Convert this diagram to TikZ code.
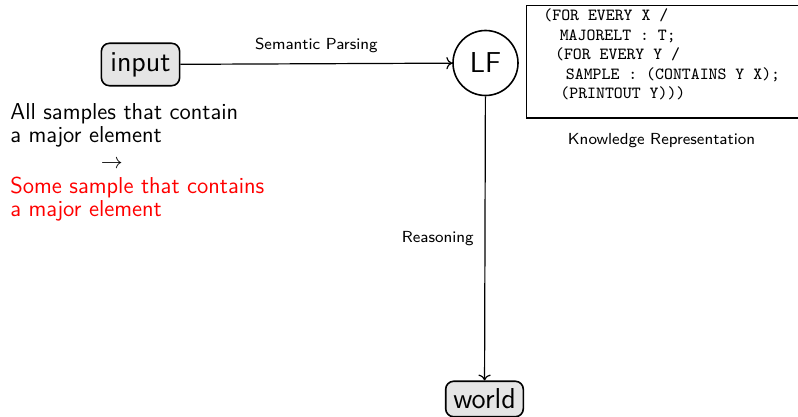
\documentclass[tikz,border=0pt]{standalone}
\usetikzlibrary{arrows.meta}
\begin{document}
\begin{tikzpicture}[x=0.5pt,y=-0.5pt,
  term/.style={draw, thick, rounded corners=4pt, fill=gray!20, inner sep=3.8pt,
    font=\sffamily\fontsize{14.4}{17}\selectfont},
  lfnode/.style={draw, thick, circle, minimum size=32.5pt, inner sep=0pt,
    font=\sffamily\fontsize{14.4}{17}\selectfont},
  flow/.style={semithick, ->},
  edgelabel/.style={font=\sffamily\fontsize{8}{9.5}\selectfont},
  codeline/.style={anchor=base west, inner sep=0pt, text height=6pt, text depth=1.8pt,
    font=\ttfamily\fontsize{8.5}{10}\selectfont},
  prose/.style={anchor=north west, inner sep=0pt, align=left,
    font={\sffamily\fontsize{11.5}{11.6}\selectfont\lineskiplimit=-100pt}},
]
\useasboundingbox (0,0) rectangle (798,417);

% main pipeline
\node[term, inner sep=4.5pt] (input) at (140.5,64.5) {input};
\node[lfnode] (LF) at (485.5,63) {LF};
\node[term] (world) at (484.5,399) {world};

\draw[flow] (input) -- node[edgelabel, above=2pt] {Semantic Parsing} (LF);
\draw[flow] (LF) -- node[edgelabel, left=2pt] {Reasoning} (world);

% knowledge representation box
\node[draw, line width=0.6pt, anchor=north west, minimum width=160pt,
      minimum height=56.25pt, inner sep=0pt] (krbox) at (526,5) {};
\node[codeline] (code1) at (543,20.5)   {(FOR EVERY X /};
\node[codeline] (code2) at (559.4,40.1) {MAJORELT : T;};
\node[codeline] (code3) at (554.7,59.7) {(FOR EVERY Y /};
\node[codeline] (code4) at (565.5,79.3) {SAMPLE : (CONTAINS Y X);};
\node[codeline] (code5) at (560,98.9)   {(PRINTOUT Y)))};
\node[edgelabel] (krlabel) at (661.5,140.7) {Knowledge Representation};

% example sentences
\node[prose] (premise) at (10,103.3) {All samples that contain\\a major element};
\node[anchor=base, inner sep=0pt, font=\fontsize{11}{13.6}\selectfont]
  (implies) at (111.7,168.5) {$\rightarrow$};
\node[prose, text=red] (conclusion) at (10,176.6) {Some sample that contains\\a major element};
\end{tikzpicture}
\end{document}
